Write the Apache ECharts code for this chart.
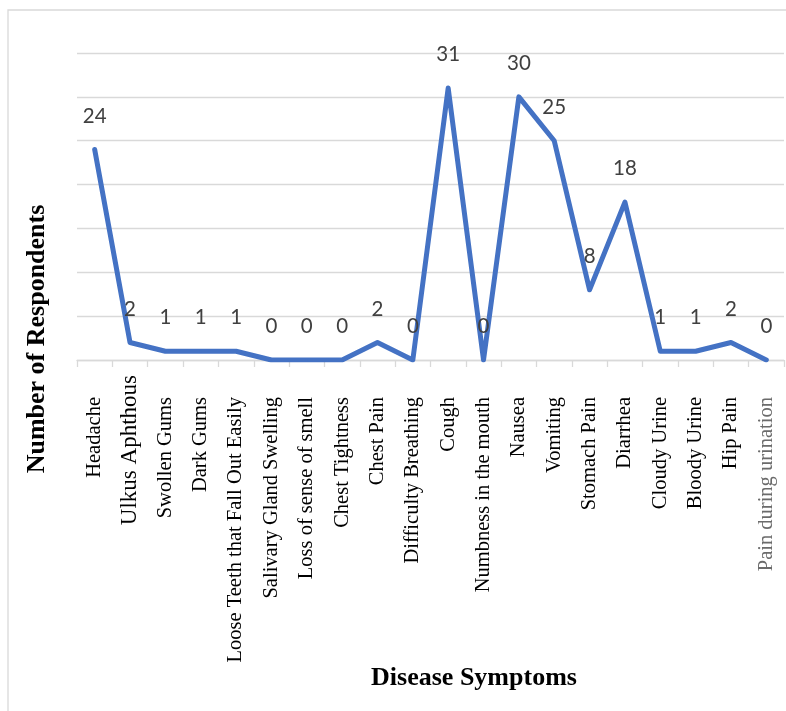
<!DOCTYPE html>
<html>
<head>
<meta charset="utf-8">
<title>Disease Symptoms</title>
<script src="https://cdn.jsdelivr.net/npm/echarts@6/dist/echarts.min.js"></script>
<style>
  html, body { margin: 0; padding: 0; background: #ffffff; }
  #chart { width: 786px; height: 711px; }
</style>
</head>
<body>
<div id="chart"></div>
<script>
// Symptoms reported and how many respondents reported each one
const symptoms = [
  'Headache', 'Ulkus Aphthous', 'Swollen Gums', 'Dark Gums',
  'Loose Teeth that Fall Out Easily', 'Salivary Gland Swelling',
  'Loss of sense of smell', 'Chest Tightness', 'Chest Pain',
  'Difficulty Breathing', 'Cough', 'Numbness in the mouth', 'Nausea',
  'Vomiting', 'Stomach Pain', 'Diarrhea', 'Cloudy Urine', 'Bloody Urine',
  'Hip Pain', 'Pain during urination'
];
const respondents = [24, 2, 1, 1, 1, 0, 0, 0, 2, 0, 31, 0, 30, 25, 8, 18, 1, 1, 2, 0];

// Value axis range (ticks themselves are hidden, only grid lines show)
const yMin = 0;
const yMax = 35;
const yStep = 5;

const xTitle = 'Disease Symptoms';
const yTitle = 'Number of Respondents';

const serif = '"Liberation Serif", "Times New Roman", serif';
const gridGrey = '#d9d9d9';

const chart = echarts.init(document.getElementById('chart'), null, { renderer: 'canvas' });

chart.setOption({
  animation: false,
  backgroundColor: '#ffffff',
  grid: { left: 77, right: 2, top: 53, bottom: 351, containLabel: false },
  xAxis: {
    type: 'category',
    data: symptoms,
    boundaryGap: true,
    axisLine: { show: true, lineStyle: { color: gridGrey, width: 1.3 } },
    axisTick: { show: true, length: 7, alignWithLabel: false, lineStyle: { color: gridGrey, width: 1.3 } },
    axisLabel: {
      interval: 0,
      rotate: 90,
      margin: 15,
      color: '#000000',
      fontFamily: serif,
      fontSize: 20,
      formatter: function (v) {
        if (v === 'Ulkus Aphthous') return '{big|' + v + '}';
        if (v === 'Pain during urination') return '{dim|' + v + '}';
        return '{n|' + v + '}';
      },
      rich: {
        n:   { fontFamily: serif, fontSize: 20.5, color: '#000000', padding: [0, 22, 0, 0] },
        big: { fontFamily: serif, fontSize: 23, color: '#000000' },
        dim: { fontFamily: serif, fontSize: 20.5, color: '#6b6b6b', padding: [0, 22, 0, 0] }
      }
    },
    splitLine: { show: false }
  },
  yAxis: {
    type: 'value',
    min: yMin,
    max: yMax,
    interval: yStep,
    axisLine: { show: false },
    axisTick: { show: false },
    axisLabel: { show: false },
    splitLine: { show: true, lineStyle: { color: gridGrey, width: 1.3 } }
  },
  series: [{
    type: 'line',
    data: respondents,
    symbol: 'circle',
    symbolSize: 2,
    showSymbol: true,
    itemStyle: { color: '#4472c4' },
    lineStyle: { color: '#4472c4', width: 5, cap: 'round', join: 'round' },
    label: {
      show: true,
      position: 'top',
      distance: 22,
      color: '#404040',
      fontFamily: 'Lato, "Open Sans", sans-serif',
      fontSize: 20.5
    },
    z: 3
  }],
  graphic: [
    {
      // outer chart frame (only its top and left edges fall inside the canvas)
      type: 'rect',
      silent: true,
      shape: { x: 8, y: 10, width: 1200, height: 1200 },
      style: { fill: 'none', stroke: gridGrey, lineWidth: 1.3 },
      z: -1
    },
    {
      type: 'text',
      x: 474,
      y: 678,
      style: {
        text: xTitle,
        fill: '#000000',
        fontFamily: serif,
        fontWeight: 'bold',
        fontSize: 26,
        align: 'center',
        verticalAlign: 'middle'
      }
    },
    {
      type: 'text',
      x: 37,
      y: 339,
      rotation: Math.PI / 2,
      style: {
        text: yTitle,
        fill: '#000000',
        fontFamily: serif,
        fontWeight: 'bold',
        fontSize: 26,
        align: 'center',
        verticalAlign: 'middle'
      }
    }
  ]
});
</script>
</body>
</html>
